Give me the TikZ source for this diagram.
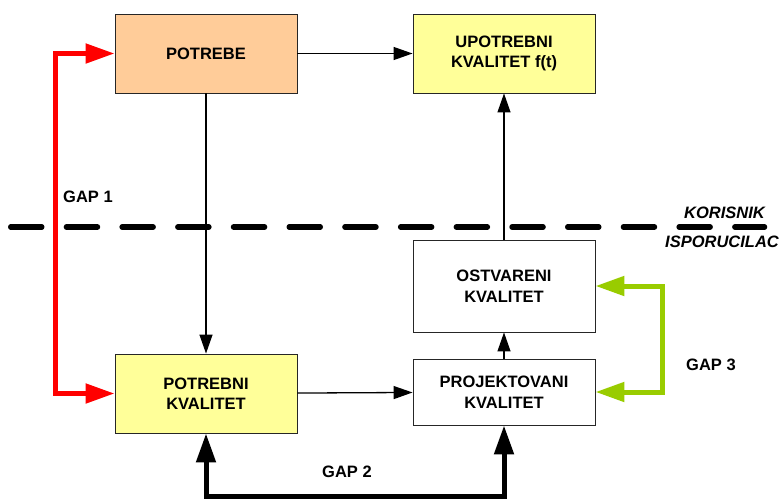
\documentclass[tikz,border=0pt]{standalone}
\usepackage{fontspec}
\setmainfont{Liberation Sans}
\usetikzlibrary{arrows.meta}
\definecolor{boxorange}{HTML}{FFCC99}
\definecolor{boxyellow}{HTML}{FFFF99}
\definecolor{gapgreen}{HTML}{99CC00}
\definecolor{gapred}{HTML}{FF0000}
\begin{document}
\begin{tikzpicture}[x=1pt,y=-1pt,
  box/.style={draw=black!85, line width=0.9pt, minimum width=182pt, minimum height=#1, inner sep=0pt,
    align=center, font=\fontsize{16.5}{20.5}\selectfont\bfseries},
  box/.default=79pt,
  lbl/.style={inner sep=0pt, font=\fontsize{16.5}{20.5}\selectfont\bfseries},
  thin/.style={line width=1.3pt, -{Triangle[length=19pt,width=13pt]}},
  gap/.style={line width=5pt, line join=miter, {Triangle[length=29pt,width=19pt]}-{Triangle[length=29pt,width=19pt]}}
]
\useasboundingbox (0,0) rectangle (781,499);
% boxes
\node[box, fill=boxorange] (potrebe) at (206,53.5) {POTREBE};
\node[box, fill=boxyellow] (upotrebni) at (504,53.5) {UPOTREBNI\\KVALITET f(t)};
\node[box=92pt, fill=white] (ostvareni) at (504,286) {OSTVARENI\\KVALITET};
\node[box=66pt, fill=white] (projekt) at (504,392) {PROJEKTOVANI\\KVALITET};
\node[box, fill=boxyellow] (potrebni) at (206,393.5) {POTREBNI\\KVALITET};
% divider
\coordinate (dl1) at (10.75,227);
\coordinate (dl2) at (764.5,227);
\draw[line width=5.5pt, line cap=round, dash pattern=on 31pt off 24.7pt] (dl1) -- (dl2);
\node[lbl, font=\fontsize{16.5}{20.5}\selectfont\bfseries\itshape, anchor=base east] (kor) at (765,218) {KORISNIK};
\node[lbl, font=\fontsize{16.5}{20.5}\selectfont\bfseries\itshape, anchor=base west] (isp) at (665,247) {ISPORUCILAC};
% thin connectors
\draw[thin] (potrebe) -- (upotrebni);
\draw[thin] (potrebe) -- (potrebni);
\draw[thin] (potrebni) -- (projekt);
\draw[thin] (projekt) -- (ostvareni);
\draw[thin] (ostvareni) -- (upotrebni);
% gaps
\coordinate (r1) at (55,200);
\draw[gap, draw=gapred] (potrebe.west) -| (r1) |- (potrebni.west);
\coordinate (g1) at (662.5,340);
\draw[gap, draw=gapgreen] (ostvareni.east) -| (g1) |- (projekt.east);
\coordinate (b1) at (350,496);
\draw[gap, draw=black] (potrebni.south) |- (b1) -| (projekt.south);
% labels
\node[lbl, anchor=base west] (gap1) at (63,202) {GAP 1};
\node[lbl, anchor=base west] (gap2) at (322,477) {GAP 2};
\node[lbl, anchor=base west] (gap3) at (686,370) {GAP 3};
\end{tikzpicture}
\end{document}
